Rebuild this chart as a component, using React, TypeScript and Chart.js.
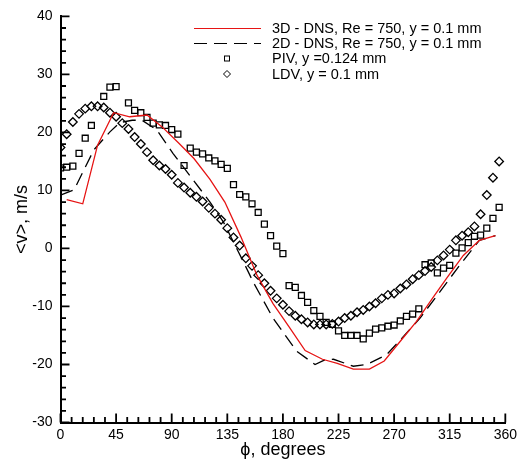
import React, { useEffect, useRef } from "react";
import { Chart, registerables } from "chart.js";

Chart.register(...registerables);

// 3D - DNS (red solid)
const dns3dAngle = [5, 18, 30, 43, 56, 70, 82, 95, 108, 121, 133, 146, 159, 172, 185, 198, 212, 224, 237, 250, 262, 275, 288, 301, 313, 326, 339, 352];
const dns3dV = [8.4, 7.7, 17.8, 23.4, 22.7, 23.0, 21.0, 18.3, 15.5, 11.9, 8.0, 2.0, -4.6, -9.5, -13.5, -17.6, -19.1, -19.8, -20.8, -20.8, -19.4, -16.0, -12.6, -8.6, -5.0, -1.2, 1.4, 2.2];

// 2D - DNS (black dashed)
const dns2dAngle = [0, 11, 27, 40, 48, 58, 66, 78, 91, 107, 121, 132, 148, 156, 172, 191, 206, 214, 221, 237, 248, 264, 274, 291, 307, 323, 339, 347, 352];
const dns2dV = [9.2, 10.1, 17.0, 20.1, 21.7, 22.1, 22.1, 20.4, 16.4, 11.9, 8.0, 4.5, -2.3, -5.8, -12.0, -17.7, -20.0, -19.2, -19.1, -20.3, -20.0, -18.3, -16.0, -12.0, -7.5, -2.9, 1.4, 1.9, 2.2];

// PIV, y = 0.124 mm (squares)
const pivAngle = [0, 5, 10, 15, 20, 25, 35, 40, 45, 55, 60, 65, 70, 75, 80, 85, 90, 95, 100, 105, 110, 115, 120, 125, 130, 135, 140, 145, 150, 155, 160, 165, 170, 175, 180, 185, 190, 195, 200, 205, 210, 215, 220, 225, 230, 235, 240, 245, 250, 255, 260, 265, 270, 275, 280, 285, 290, 295, 300, 305, 310, 315, 320, 325, 330, 335, 340, 345, 350, 355];
const pivV = [13.9, 14.0, 14.2, 16.4, 19.0, 21.2, 26.2, 27.8, 27.9, 25.1, 23.8, 23.4, 22.6, 21.6, 21.3, 21.2, 20.5, 19.7, 14.3, 17.3, 16.6, 16.3, 15.6, 15.1, 14.5, 13.8, 11.0, 9.3, 8.9, 7.7, 6.2, 4.2, 2.2, 0.4, -0.9, -6.4, -6.7, -8.1, -9.3, -10.7, -11.7, -12.75, -13.1, -14.2, -15.0, -15.0, -15.0, -15.6, -14.6, -13.9, -13.7, -13.4, -13.2, -12.5, -11.7, -11.3, -10.4, -2.8, -2.5, -4.2, -3.4, -2.9, -0.8, 0.1, 1.0, 2.1, 2.3, 3.5, 5.2, 7.1];

// LDV, y = 0.1 mm (diamonds)
const ldvAngle = [0, 5, 10, 15, 20, 25, 30, 35, 40, 45, 50, 55, 60, 65, 70, 75, 80, 85, 90, 95, 100, 105, 110, 115, 120, 125, 130, 135, 140, 145, 150, 155, 160, 165, 170, 175, 180, 185, 190, 195, 200, 205, 210, 215, 220, 225, 230, 235, 240, 245, 250, 255, 260, 265, 270, 275, 280, 285, 290, 295, 300, 305, 310, 315, 320, 325, 330, 335, 340, 345, 350, 355];
const ldvV = [17.4, 19.7, 21.8, 23.2, 24.1, 24.5, 24.5, 24.3, 23.4, 22.7, 21.6, 20.6, 19.2, 18.0, 16.6, 15.2, 14.3, 13.7, 12.7, 11.3, 10.5, 9.6, 8.9, 8.1, 7.0, 6.0, 4.95, 3.5, 1.9, 0.5, -1.7, -3.0, -4.6, -6.0, -7.3, -8.6, -9.7, -10.8, -11.6, -12.2, -12.75, -13.1, -13.1, -13.1, -13.0, -12.6, -12.0, -11.6, -11.0, -10.6, -10.0, -9.45, -8.6, -8.0, -7.75, -6.9, -6.2, -5.3, -4.6, -3.9, -3.2, -2.05, -1.2, -0.2, 1.4, 2.2, 2.8, 3.8, 5.9, 9.2, 12.2, 15.0];

const legendLabels = [
  "3D - DNS, Re = 750, y = 0.1 mm",
  "2D - DNS, Re = 750, y = 0.1 mm",
  "PIV, y =0.124 mm",
  "LDV, y = 0.1 mm",
];

const xTickValues = [0, 45, 90, 135, 180, 225, 270, 315, 360];
const yTickValues = [-30, -20, -10, 0, 10, 20, 30, 40];

const FONT = "'Liberation Sans', Arial, Helvetica, sans-serif";
const RED = "rgb(230,20,20)";

const pts = (xs: number[], ys: number[]) => xs.map((x, i) => ({ x, y: ys[i] }));

const tickMarks = {
  id: "tickMarks",
  afterDraw(chart: any) {
    const ctx = chart.ctx;
    const xs = chart.scales.x;
    const ys = chart.scales.y;
    const { left, bottom } = chart.chartArea;
    ctx.save();
    ctx.strokeStyle = "#000";
    ctx.lineWidth = 1.8;
    ctx.beginPath();
    for (let v = 0; v <= 360; v += 9) {
      const px = xs.getPixelForValue(v);
      const len = v % 45 === 0 ? 9 : 5.5;
      ctx.moveTo(px, bottom);
      ctx.lineTo(px, bottom - len);
    }
    for (let v = -30; v <= 40; v += 2) {
      const py = ys.getPixelForValue(v);
      const len = v % 10 === 0 ? 9 : 5.5;
      ctx.moveTo(left, py);
      ctx.lineTo(left + len, py);
    }
    ctx.stroke();
    ctx.restore();
  },
};

const legendPlugin = {
  id: "customLegend",
  afterDraw(chart: any) {
    const ctx = chart.ctx;
    const x0 = 194, x1 = 261, mx = 227, tx = 272;
    const rows = [28.5, 43.5, 58.5, 74];
    ctx.save();
    ctx.font = `14.5px ${FONT}`;
    ctx.textBaseline = "middle";
    ctx.fillStyle = "#000";
    ctx.strokeStyle = RED;
    ctx.lineWidth = 1.2;
    ctx.beginPath();
    ctx.moveTo(x0, rows[0]);
    ctx.lineTo(x1, rows[0]);
    ctx.stroke();
    ctx.strokeStyle = "#000";
    ctx.setLineDash([13, 7]);
    ctx.beginPath();
    ctx.moveTo(x0, rows[1]);
    ctx.lineTo(x1, rows[1]);
    ctx.stroke();
    ctx.setLineDash([]);
    ctx.lineWidth = 1;
    ctx.strokeRect(mx - 2.5, rows[2] - 2.5, 5, 5);
    ctx.beginPath();
    ctx.moveTo(mx, rows[3] - 3.5);
    ctx.lineTo(mx + 3.5, rows[3]);
    ctx.lineTo(mx, rows[3] + 3.5);
    ctx.lineTo(mx - 3.5, rows[3]);
    ctx.closePath();
    ctx.stroke();
    legendLabels.forEach((t, i) => ctx.fillText(t, tx, rows[i] + 0.5));
    ctx.restore();
  },
};

export default function App() {
  const ref = useRef<HTMLCanvasElement>(null);
  useEffect(() => {
    if (!ref.current) return;
    const chart = new Chart(ref.current, {
      type: "scatter",
      data: {
        datasets: [
          {
            label: legendLabels[0],
            data: pts(dns3dAngle, dns3dV),
            showLine: true,
            borderColor: RED,
            borderWidth: 1.3,
            pointRadius: 0,
            tension: 0,
          },
          {
            label: legendLabels[1],
            data: pts(dns2dAngle, dns2dV),
            showLine: true,
            borderColor: "#000",
            borderWidth: 1.3,
            borderDash: [13, 7],
            pointRadius: 0,
            tension: 0,
          },
          {
            label: legendLabels[2],
            data: pts(pivAngle, pivV),
            showLine: false,
            pointStyle: "rect",
            pointRadius: 4.2,
            pointBorderWidth: 1.3,
            pointBorderColor: "#000",
            pointBackgroundColor: "rgba(0,0,0,0)",
          },
          {
            label: legendLabels[3],
            data: pts(ldvAngle, ldvV),
            showLine: false,
            pointStyle: "rectRot",
            pointRadius: 4.3,
            pointBorderWidth: 1.3,
            pointBorderColor: "#000",
            pointBackgroundColor: "rgba(0,0,0,0)",
          },
        ],
      },
      options: {
        animation: false,
        responsive: false,
        layout: { padding: { top: 13, right: 15, left: 0, bottom: 0 } },
        plugins: { legend: { display: false }, tooltip: { enabled: false } },
        scales: {
          x: {
            type: "linear",
            min: 0,
            max: 360,
            afterBuildTicks: (s: any) => {
              s.ticks = xTickValues.map((v) => ({ value: v }));
            },
            afterFit: (s: any) => {
              s.height = 39.5;
            },
            grid: { display: false, drawTicks: false },
            border: { display: true, color: "#000", width: 2 },
            ticks: {
              color: "#000",
              font: { family: FONT, size: 14 },
              padding: 4,
              maxRotation: 0,
              autoSkip: false,
            },
            title: {
              display: true,
              text: "ϕ, degrees",
              color: "#000",
              font: { family: FONT, size: 18 },
              padding: { top: 0, bottom: 1 },
            },
          },
          y: {
            type: "linear",
            min: -30,
            max: 40,
            afterBuildTicks: (s: any) => {
              s.ticks = yTickValues.map((v) => ({ value: v }));
            },
            afterFit: (s: any) => {
              s.width = 60.5;
            },
            grid: { display: false, drawTicks: false },
            border: { display: true, color: "#000", width: 2 },
            ticks: {
              color: "#000",
              font: { family: FONT, size: 14 },
              padding: 8,
              autoSkip: false,
            },
            title: {
              display: true,
              text: "<v>, m/s",
              color: "#000",
              font: { family: FONT, size: 18 },
              padding: { top: 11, bottom: 0 },
            },
          },
        },
      },
      plugins: [tickMarks, legendPlugin],
    });
    return () => chart.destroy();
  }, []);
  return (
    <div style={{ position: "fixed", left: 0, top: 0, width: 521, height: 462, background: "#fff" }}>
      <canvas ref={ref} width={521} height={462} style={{ display: "block" }} />
    </div>
  );
}
